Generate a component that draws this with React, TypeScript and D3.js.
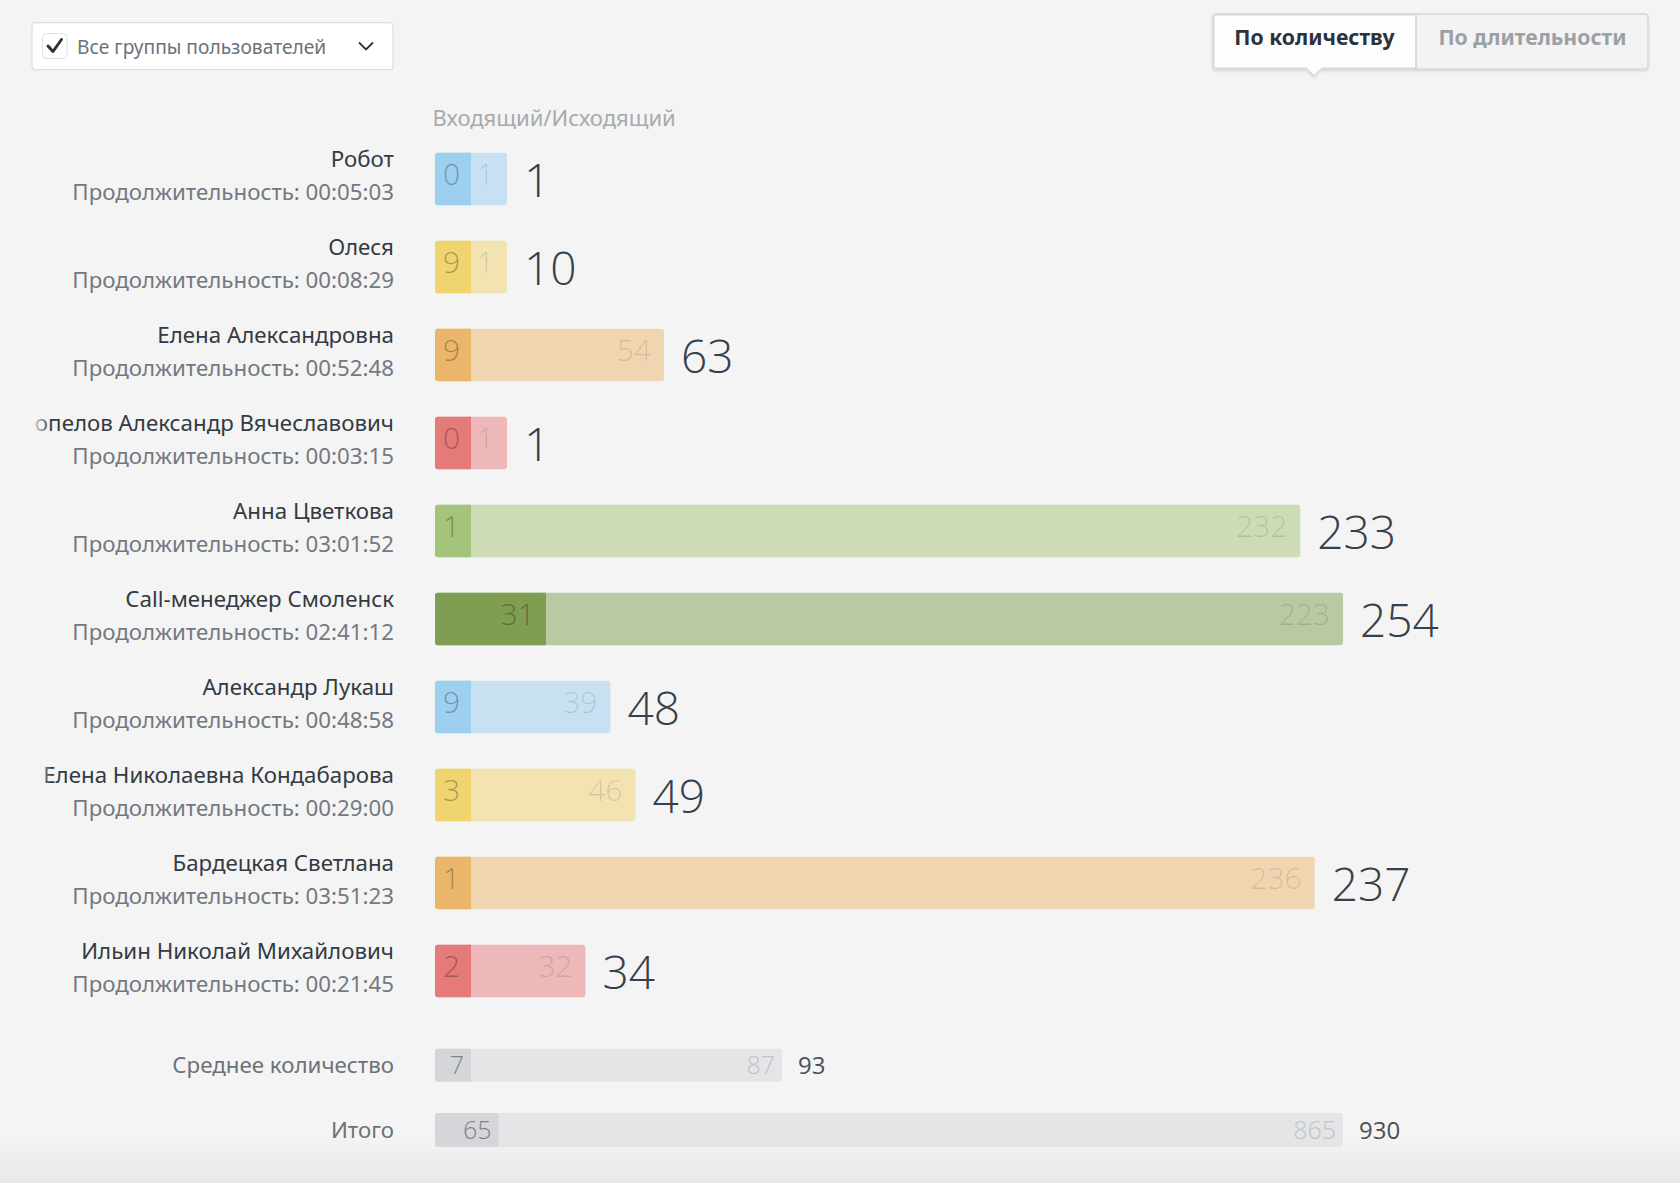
import React from "react";
import * as d3 from "d3";

const names = [
  "Робот",
  "Олеся",
  "Елена Александровна",
  "Попелов Александр Вячеславович",
  "Анна Цветкова",
  "Call-менеджер Смоленск",
  "Александр Лукаш",
  "Елена Николаевна Кондабарова",
  "Бардецкая Светлана",
  "Ильин Николай Михайлович",
];
const durations = [
  "00:05:03",
  "00:08:29",
  "00:52:48",
  "00:03:15",
  "03:01:52",
  "02:41:12",
  "00:48:58",
  "00:29:00",
  "03:51:23",
  "00:21:45",
];
const inbound = [0, 9, 9, 0, 1, 31, 9, 3, 1, 2];
const outbound = [1, 1, 54, 1, 232, 223, 39, 46, 236, 32];
const totals = [1, 10, 63, 1, 233, 254, 48, 49, 237, 34];
const colorIn = ["#9dcfef", "#efd46f", "#ebb66b", "#e57b78", "#a5c47b", "#7f9e51", "#9dcfef", "#efd46f", "#ebb66b", "#e57b78"];
const colorOut = ["#c8e1f2", "#f2e3b1", "#f0d5b1", "#edb8b7", "#cddcb7", "#b9c9a3", "#c8e1f2", "#f2e3b1", "#f0d5b1", "#edb8b7"];

const summaryLabels = ["Среднее количество", "Итого"];
const summaryIn = [7, 65];
const summaryOut = [87, 865];
const summaryTotal = [93, 930];

const headerLabel = "Входящий/Исходящий";
const filterLabel = "Все группы пользователей";
const toggleLabels = ["По количеству", "По длительности"];

const W = 1680;
const H = 1183;
const X0 = 435;
const BAR_MAX = 908;
const MIN_SEG = 36;
const ROW_TOP = 152.7;
const ROW_STEP = 88;
const BAR_H = 52.5;
const NAME_X = 394;
const FONT = "'Noto Sans', 'Open Sans', sans-serif";
const LIGHT = "'Open Sans', 'Noto Sans', sans-serif";

function Bar({ y, h, wIn, wOut, cIn, cOut, rx }) {
  return (
    <g>
      <rect x={X0} y={y} width={wIn + wOut} height={h} rx={rx} fill={cOut} />
      <rect x={X0} y={y} width={wIn} height={h} rx={rx} fill={cIn} />
      <rect x={X0 + wIn - rx} y={y} width={rx} height={h} fill={cIn} />
    </g>
  );
}

export default function App() {
  const x = d3.scaleLinear().domain([0, d3.max(totals) as number]).range([0, BAR_MAX]);
  const xTotal = d3.scaleLinear().domain([0, summaryTotal[1]]).range([0, BAR_MAX]);
  const seg = (s: (v: number) => number, v: number) => Math.max(MIN_SEG, s(v));
  const y = d3.scaleLinear().domain([0, 1]).range([ROW_TOP, ROW_TOP + ROW_STEP]);

  const summaryScales = [x, xTotal];
  const summaryTop = [1048.7, 1113];
  const summaryH = [33, 34];

  return (
    <svg
      width={W}
      height={H}
      viewBox={`0 0 ${W} ${H}`}
      style={{ position: "absolute", left: 0, top: 0, display: "block" }}
    >
      <defs>
        <linearGradient id="bottomFade" x1="0" y1="0" x2="0" y2="1">
          <stop offset="0" stopColor="#f4f4f4" />
          <stop offset="1" stopColor="#e8e8e8" />
        </linearGradient>
        <linearGradient id="leftFade" x1="0" y1="0" x2="1" y2="0">
          <stop offset="0" stopColor="#f4f4f4" stopOpacity="1" />
          <stop offset="1" stopColor="#f4f4f4" stopOpacity="0" />
        </linearGradient>
        <clipPath id="nameClip">
          <rect x={34} y={0} width={NAME_X} height={H} />
        </clipPath>
        <filter id="shadow" x="-5%" y="-20%" width="110%" height="160%">
          <feDropShadow dx="0" dy="1.5" stdDeviation="0.8" floodColor="#000" floodOpacity="0.12" />
        </filter>
      </defs>
      <rect x={0} y={0} width={W} height={H} fill="#f4f4f4" />
      <rect x={0} y={1135} width={W} height={H - 1135} fill="url(#bottomFade)" />

      {/* filter dropdown */}
      <rect x={32} y={22.7} width={361} height={47} rx={3} fill="#ffffff" stroke="#dedede" strokeWidth={1.2} />
      <rect x={42.5} y={33.5} width={24.5} height={25} rx={4} fill="#ffffff" stroke="#e0e0e0" strokeWidth={1} />
      <path d="M48 46 L53 51.5 L61.5 39.5" fill="none" stroke="#2c333d" strokeWidth={3} strokeLinecap="round" strokeLinejoin="round" />
      <text x={77} y={54} fontFamily={FONT} fontSize={19.2} fill="#6c7279">
        {filterLabel}
      </text>
      <polyline points="359,42.5 366,49.5 373,42.5" fill="none" stroke="#2c333d" strokeWidth={1.8} />

      {/* toggle */}
      <g filter="url(#shadow)">
        <rect x={1213} y={14} width={435} height={55} rx={3} fill="#f3f3f3" stroke="#d8d8d8" strokeWidth={1.5} />
        <path d="M1216 14.75 L1416 14.75 L1416 68.25 L1322 68.25 L1314 76 L1306 68.25 L1216 68.25 A2.25 2.25 0 0 1 1213.75 66 L1213.75 17 A2.25 2.25 0 0 1 1216 14.75 Z" fill="#fdfdfd" stroke="#d8d8d8" strokeWidth={1.5} />
      </g>
      <line x1={1416} y1={14} x2={1416} y2={69} stroke="#d8d8d8" strokeWidth={1.5} />
      <text x={1314.5} y={45} textAnchor="middle" fontFamily={FONT} fontWeight={700} fontSize={21.2} fill="#2b323b">
        {toggleLabels[0]}
      </text>
      <text x={1532.5} y={45} textAnchor="middle" fontFamily={FONT} fontWeight={700} fontSize={21.2} fill="#9ba0a5">
        {toggleLabels[1]}
      </text>

      {/* header */}
      <text x={432.5} y={125.7} fontFamily={FONT} fontSize={22} fill="#a6aaaf">
        {headerLabel}
      </text>

      {/* rows */}
      {names.map((name, i) => {
        const top = y(i);
        const wIn = seg(x, inbound[i]);
        const wOut = seg(x, outbound[i]);
        const end = X0 + wIn + wOut;
        return (
          <g key={name}>
            <g clipPath="url(#nameClip)">
              <text x={NAME_X} y={top + 14.5} textAnchor="end" fontFamily={FONT} fontSize={22.3} fill="#333a43">
                {name}
              </text>
              <text x={NAME_X} y={top + 47.3} textAnchor="end" fontFamily={FONT} fontSize={22.3} fill="#737981">
                {`Продолжительность: ${durations[i]}`}
              </text>
            </g>
            <Bar y={top} h={BAR_H} wIn={wIn} wOut={wOut} cIn={colorIn[i]} cOut={colorOut[i]} rx={3} />
            <text x={X0 + wIn - 11} y={top + 32.5} textAnchor="end" fontFamily={LIGHT} fontWeight={300} fontSize={30} fill="#000" fillOpacity={0.3}>
              {inbound[i]}
            </text>
            <text x={end - 13} y={top + 32.5} textAnchor="end" fontFamily={LIGHT} fontWeight={300} fontSize={30} fill="#000" fillOpacity={0.13}>
              {outbound[i]}
            </text>
            <text x={end + 17} y={top + 43.8} fontFamily={LIGHT} fontWeight={300} fontSize={46} fill="#36404b">
              {totals[i]}
            </text>
          </g>
        );
      })}
      <rect x={30} y={140} width={22} height={820} fill="url(#leftFade)" />

      {/* summary rows */}
      {summaryLabels.map((label, k) => {
        const s = summaryScales[k];
        const top = summaryTop[k];
        const h = summaryH[k];
        const wIn = seg(s, summaryIn[k]);
        const wOut = seg(s, summaryOut[k]);
        const end = X0 + wIn + wOut;
        return (
          <g key={label}>
            <text x={NAME_X} y={top + h / 2 + 7.5} textAnchor="end" fontFamily={FONT} fontSize={22.3} fill="#6c7279">
              {label}
            </text>
            <Bar y={top} h={h} wIn={wIn} wOut={wOut} cIn="#d5d6da" cOut="#e4e5e7" rx={3} />
            <text x={X0 + wIn - 7} y={top + h / 2 + 9} textAnchor="end" fontFamily={LIGHT} fontWeight={300} fontSize={25} fill="#7d828a">
              {summaryIn[k]}
            </text>
            <text x={end - 7} y={top + h / 2 + 9} textAnchor="end" fontFamily={LIGHT} fontWeight={300} fontSize={25} fill="#bfc2c6">
              {summaryOut[k]}
            </text>
            <text x={end + 16} y={top + h / 2 + 9} fontFamily={LIGHT} fontWeight={400} fontSize={24} fill="#4a5058">
              {summaryTotal[k]}
            </text>
          </g>
        );
      })}
    </svg>
  );
}
